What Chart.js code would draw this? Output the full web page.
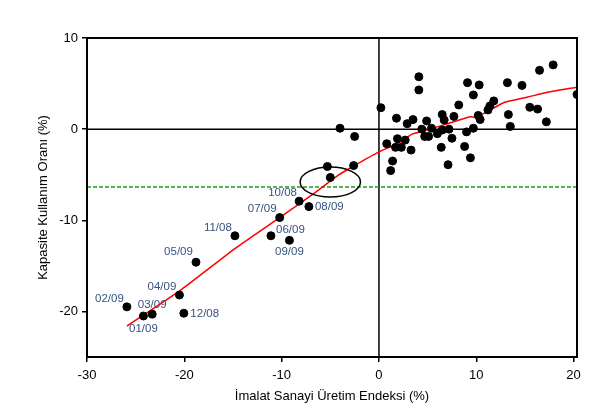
<!DOCTYPE html>
<html>
<head>
<meta charset="utf-8">
<script src="https://cdn.jsdelivr.net/npm/chart.js@4/dist/chart.umd.min.js"></script>
<style>
  html, body { margin: 0; padding: 0; background: #fff; }
  #wrap { width: 594px; height: 412px; position: relative; }
</style>
</head>
<body>
<div id="wrap"><canvas id="c"></canvas></div>
<script>
// scatter: industrial production growth (x) vs capacity utilisation change (y)
const pointX = [-25.9, -24.2, -23.3, -20.5, -20.05, -18.8, -14.8, -11.1, -9.2, -10.2, -8.2, -7.2,
  -5.0, -5.3, -2.6, -4.0, -2.5,
  0.2, 4.1, 4.1, 0.8, 1.8, 1.9, 1.7, 2.3, 2.7, 1.4, 1.2, 2.9, 3.5, 3.3, 4.4, 4.9, 4.7, 5.1, 5.4,
  6.0, 6.5, 6.7, 6.5, 7.2, 6.4, 7.1, 7.5, 7.7, 8.2, 8.8, 9.0, 9.4, 9.1, 9.7, 10.3, 9.7, 10.2,
  10.4, 11.2, 11.4, 11.8, 13.2, 14.7, 13.3, 13.5, 15.5, 16.3, 17.2, 16.5, 17.9, 20.35];
const pointY = [-19.5, -20.5, -20.3, -18.2, -20.2, -14.6, -11.7, -11.7, -12.2, -9.7, -7.9, -8.5,
  -5.3, -4.1, -4.0, 0.1, -0.8,
  2.35, 5.75, 4.3, -1.6, 1.2, -1.05, -2.0, -2.0, -1.2, -3.5, -4.55, 0.6, 1.05, -2.3, 0.0, 0.9, -0.8, -0.8, 0.1,
  -0.5, 1.6, 1.0, -0.1, 0.0, -2.0, -3.9, -1.0, 1.4, 2.65, -1.9, -0.3, -3.15, 5.1, 3.75, 4.85, 0.1, 1.5,
  1.05, 2.1, 2.55, 3.1, 5.1, 4.8, 1.6, 0.3, 2.4, 2.2, 0.8, 6.45, 7.05, 3.8];

// fitted (smoothed) curve
const fitX = [-25.9, -20.3, -14.8, -10.2, -7.0, -4.1, -2.6, 0, 1.9, 3.4, 4.3, 6.0, 8.4, 9.4, 9.9, 11.1, 12.8, 15.2, 17.6, 20.35];
const fitY = [-21.6, -17.6, -13.1, -9.7, -7.3, -5.0, -4.05, -2.5, -1.6, -0.55, -0.3, 0.25, 1.05, 1.35, 1.3, 1.9, 2.9, 3.5, 4.1, 4.6];

// long-run average level (dashed line)
const avgLevel = -6.35;

// month labels beside crisis-period points
const monthLabels = ['02/09', '01/09', '03/09', '04/09', '12/08', '05/09', '11/08', '07/09', '10/08', '08/09', '06/09', '09/09'];
const monthLabelX = [-27.7, -24.2, -23.3, -22.3, -17.9, -20.6, -16.55, -12.0, -9.9, -5.1, -9.1, -9.2];
const monthLabelY = [-18.6, -21.9, -19.3, -17.3, -20.3, -13.5, -10.8, -8.7, -7.0, -8.5, -11.0, -13.5];

const xTicks = [-30, -20, -10, 0, 10, 20];
const yTicks = [-20, -10, 0, 10];

const xMin = -30, xMax = 20.35, yMin = -25, yMax = 10;
const FONT = '"Liberation Sans", Arial, sans-serif';

const overlay = {
  id: 'overlay',
  beforeDatasetsDraw(chart) {
    const { ctx, chartArea: a, scales: { x, y } } = chart;
    ctx.save();
    ctx.strokeStyle = '#000';
    ctx.lineWidth = 1.5;
    const x0 = x.getPixelForValue(0);
    const y0 = y.getPixelForValue(0);
    ctx.beginPath();
    ctx.moveTo(x0, a.top); ctx.lineTo(x0, a.bottom);
    ctx.moveTo(a.left, y0); ctx.lineTo(a.right, y0);
    ctx.stroke();
    ctx.restore();
  },
  afterDatasetsDraw(chart) {
    const { ctx, chartArea: a, scales: { x, y } } = chart;
    ctx.save();
    // ellipse around the recovery point
    const cx = x.getPixelForValue(-5.0), cy = y.getPixelForValue(-5.8);
    const rx = x.getPixelForValue(-5.0 + 3.1) - cx;
    const ry = cy - y.getPixelForValue(-5.8 + 1.65);
    ctx.strokeStyle = '#000';
    ctx.lineWidth = 1.5;
    ctx.beginPath();
    ctx.ellipse(cx, cy, rx, ry, 0, 0, Math.PI * 2);
    ctx.stroke();

    ctx.fillStyle = '#34527e';
    ctx.font = '11.5px ' + FONT;
    ctx.textAlign = 'center';
    ctx.textBaseline = 'middle';
    monthLabels.forEach((t, i) => {
      ctx.fillText(t, x.getPixelForValue(monthLabelX[i]), y.getPixelForValue(monthLabelY[i]));
    });

    // frame
    ctx.lineWidth = 2;
    ctx.strokeRect(a.left, a.top, a.right - a.left, a.bottom - a.top);
    ctx.restore();
  }
};

new Chart(document.getElementById('c'), {
  type: 'scatter',
  data: {
    datasets: [
      {
        type: 'line',
        data: [{ x: xMin, y: avgLevel }, { x: xMax, y: avgLevel }],
        borderColor: '#1f9a1f',
        borderWidth: 1.4,
        borderDash: [4, 2],
        pointRadius: 0,
        order: 3
      },
      {
        type: 'line',
        data: fitX.map((v, i) => ({ x: v, y: fitY[i] })),
        borderColor: '#ff0000',
        borderWidth: 1.5,
        pointRadius: 0,
        tension: 0.2,
        order: 2
      },
      {
        data: pointX.map((v, i) => ({ x: v, y: pointY[i] })),
        backgroundColor: '#000',
        borderColor: '#000',
        pointRadius: 4,
        order: 1
      }
    ]
  },
  options: {
    responsive: true,
    maintainAspectRatio: false,
    animation: false,
    layout: { padding: { top: 38, right: 17, left: 36, bottom: 0 } },
    plugins: { legend: { display: false }, tooltip: { enabled: false } },
    scales: {
      x: {
        type: 'linear', min: xMin, max: xMax,
        afterBuildTicks: s => { s.ticks = xTicks.map(v => ({ value: v })); },
        afterFit: s => { s.height = 55; },
        grid: { drawOnChartArea: false, drawTicks: true, tickLength: 5, color: '#000', lineWidth: 1.5 },
        border: { display: true, color: '#000', width: 2 },
        ticks: { color: '#000', font: { size: 13, family: FONT }, padding: 6, maxRotation: 0 },
        title: { display: true, text: 'İmalat Sanayi Üretim Endeksi (%)', color: '#000', padding: { top: 0, bottom: 8 },
          font: { size: 13, family: FONT } }
      },
      y: {
        type: 'linear', min: yMin, max: yMax,
        afterBuildTicks: s => { s.ticks = yTicks.map(v => ({ value: v })); },
        afterFit: s => { s.width = 51; },
        grid: { drawOnChartArea: false, drawTicks: true, tickLength: 5, color: '#000', lineWidth: 1.5 },
        border: { display: true, color: '#000', width: 2 },
        ticks: { color: '#000', font: { size: 13, family: FONT }, padding: 4 },
        title: { display: true, text: 'Kapasite Kullanım Oranı (%)', color: '#000', padding: { top: 0, bottom: 0 },
          font: { size: 13, family: FONT } }
      }
    }
  },
  plugins: [overlay]
});
</script>
</body>
</html>
